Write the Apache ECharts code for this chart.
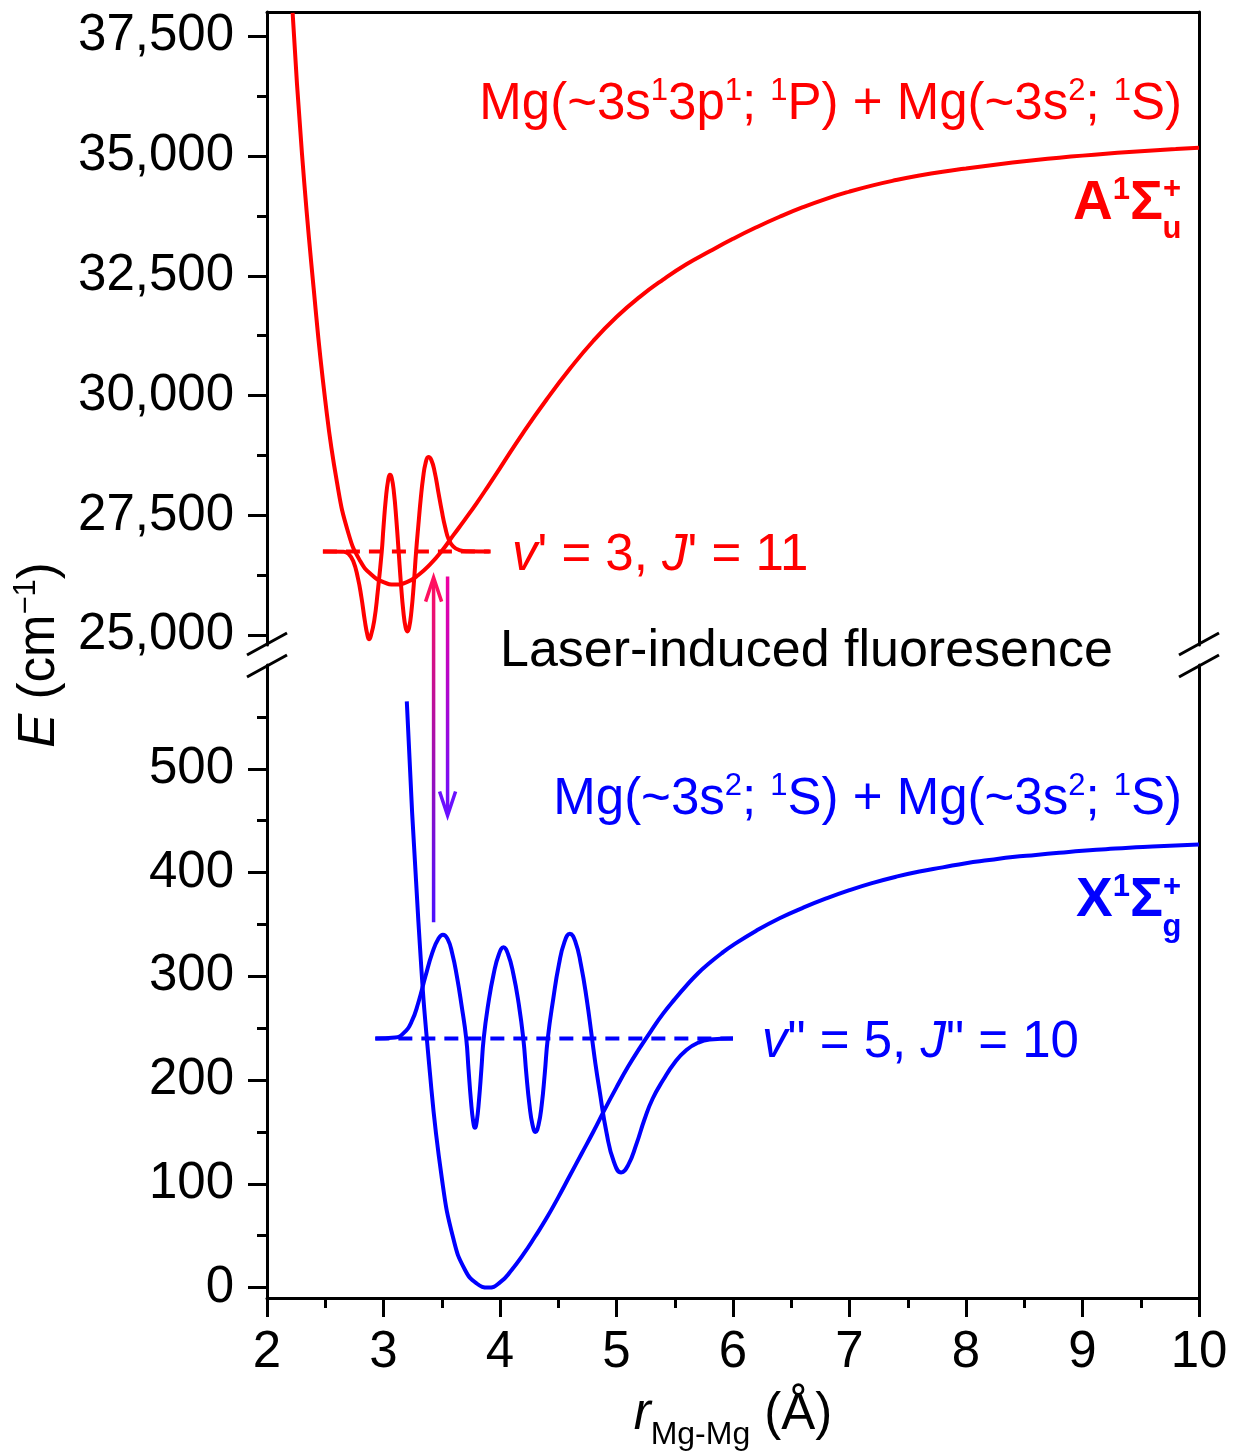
<!DOCTYPE html>
<html><head><meta charset="utf-8">
<script src="https://cdn.jsdelivr.net/npm/echarts@6/dist/echarts.min.js"></script>
<style>html,body{margin:0;padding:0;background:#fff}#c{width:1237px;height:1452px}</style>
</head><body><div id="c"></div>
<script>
// ---------- data ----------
const xTicks = [2, 3, 4, 5, 6, 7, 8, 9, 10];
const topYTicks = [25000, 27500, 30000, 32500, 35000, 37500];
const topYMinor = [26250, 28750, 31250, 33750, 36250];
const botYTicks = [0, 100, 200, 300, 400, 500];
const botYMinor = [50, 150, 250, 350, 450, 550];

// A 1Σu+ potential (cm-1)
const aStateR = [2.22, 2.30, 2.40, 2.50, 2.60, 2.70, 2.80, 2.90, 3.00, 3.10, 3.20, 3.30, 3.40, 3.50, 3.60, 3.70, 3.80, 3.90, 4.00, 4.20, 4.40, 4.60, 4.80, 5.00, 5.20, 5.40, 5.60, 5.80, 6.00, 6.20, 6.40, 6.60, 6.80, 7.00, 7.20, 7.40, 7.60, 7.80, 8.00, 8.20, 8.40, 8.60, 8.80, 9.00, 9.20, 9.40, 9.60, 9.80, 10.0];
const aStateE = [37980, 35050, 32250, 29900, 28200, 27120, 26550, 26260, 26110, 26060, 26110, 26260, 26480, 26760, 27090, 27420, 27760, 28120, 28490, 29230, 29920, 30560, 31140, 31640, 32060, 32420, 32740, 33010, 33270, 33510, 33730, 33930, 34105, 34255, 34385, 34495, 34590, 34670, 34735, 34800, 34860, 34914, 34962, 35005, 35044, 35080, 35112, 35142, 35170];
// v'=3, J'=11 wavefunction (drawn offset on its level)
const aWaveR = [2.48, 2.66, 2.70, 2.74, 2.78, 2.81, 2.84, 2.86, 2.875, 2.89, 2.92, 2.95, 2.985, 3.00, 3.02, 3.04, 3.055, 3.07, 3.09, 3.11, 3.13, 3.15, 3.17, 3.19, 3.205, 3.22, 3.24, 3.26, 3.28, 3.30, 3.32, 3.34, 3.36, 3.385, 3.41, 3.44, 3.47, 3.50, 3.53, 3.56, 3.60, 3.65, 3.72, 3.91];
const aWaveE = [26750, 26745, 26700, 26550, 26200, 25800, 25300, 25030, 24920, 24980, 25300, 25900, 26750, 27260, 27850, 28240, 28350, 28290, 27970, 27420, 26750, 26070, 25510, 25160, 25080, 25160, 25510, 26070, 26750, 27320, 27860, 28290, 28580, 28720, 28660, 28400, 28000, 27600, 27250, 27000, 26850, 26780, 26755, 26750];
const aLevelE = 26750;
const aLevelR = [2.48, 3.92];

// X 1Σg+ potential (cm-1)
const xStateR = [3.20, 3.30, 3.40, 3.50, 3.60, 3.70, 3.80, 3.90, 4.00, 4.10, 4.20, 4.30, 4.40, 4.50, 4.60, 4.70, 4.80, 4.90, 5.00, 5.10, 5.20, 5.30, 5.40, 5.50, 5.60, 5.70, 5.80, 5.90, 6.00, 6.20, 6.40, 6.60, 6.80, 7.00, 7.20, 7.40, 7.60, 7.80, 8.00, 8.20, 8.40, 8.60, 8.80, 9.00, 9.20, 9.40, 9.60, 9.80, 10.0];
const xStateE = [565, 352, 205, 106, 47, 17, 4, 0, 5, 17, 32, 49, 67, 87, 108, 129, 150, 172, 193, 213, 231, 248, 264, 278, 291, 303, 313, 322, 330, 344, 356, 366, 375, 383, 390, 396, 401, 405, 409, 412, 415, 417, 419, 421, 422.5, 424, 425, 426, 427];
// v''=5, J''=10 wavefunction
const xWaveR = [2.93, 3.10, 3.17, 3.24, 3.30, 3.36, 3.42, 3.47, 3.51, 3.55, 3.59, 3.63, 3.67, 3.71, 3.73, 3.75, 3.77, 3.785, 3.80, 3.82, 3.84, 3.86, 3.90, 3.945, 3.99, 4.03, 4.07, 4.115, 4.16, 4.20, 4.226, 4.253, 4.279, 4.305, 4.331, 4.358, 4.384, 4.41, 4.458, 4.505, 4.553, 4.60, 4.648, 4.695, 4.743, 4.79, 4.82, 4.853, 4.915, 4.978, 5.04, 5.10, 5.17, 5.24, 5.31, 5.40, 5.50, 5.60, 5.70, 5.80, 6.00];
const xWaveE = [240, 241, 245, 256, 275, 300, 323, 336, 340, 336, 322, 300, 272, 240, 210, 181, 160, 154, 160, 181, 210, 240, 274, 302, 321, 328, 321, 302, 274, 240, 206, 176, 157, 150, 157, 176, 206, 240, 279, 311, 333, 341, 333, 311, 279, 240, 215, 191, 149, 121, 111, 118, 138, 162, 182, 200, 217, 229, 236, 239, 240];
const xLevelE = 240;
const xLevelR = [2.93, 6.00];

// LIF arrows: excitation (up) and fluorescence (down)
const lifUpR = 3.43, lifUpFromE = 352, lifUpToE = 26206;
const lifDownR = 3.55, lifDownFromE = 26230, lifDownToE = 455;

// ---------- chart ----------
const FONT = 'Liberation Sans, Arial, Helvetica, sans-serif';
const FS = 51;
const RED = '#ff0000', BLUE = '#0000ff';
const zip = (a, b) => a.map((v, i) => [v, b[i]]);
const fmt = v => Number(v).toLocaleString('en-US');
const lineAx = { onZero: false, lineStyle: { color: '#000', width: 3 } };
const tickStyle = { color: '#000', width: 3 };
const SM = 0.5;

const chart = echarts.init(document.getElementById('c'));
const option = {
  animation: false,
  backgroundColor: '#fff',
  grid: [
    { left: 267, right: 38, top: 12, height: 633 },
    { left: 267, right: 38, top: 665, bottom: 154 }
  ],
  xAxis: [
    { gridIndex: 0, type: 'value', min: 2, max: 10, position: 'top', axisLine: lineAx,
      axisTick: { show: false }, axisLabel: { show: false }, splitLine: { show: false } },
    { gridIndex: 1, type: 'value', min: 2, max: 10, interval: 1, position: 'bottom', axisLine: lineAx,
      axisTick: { show: true, length: 19, lineStyle: tickStyle },
      minorTick: { show: true, splitNumber: 2, length: 10, lineStyle: tickStyle },
      axisLabel: { customValues: xTicks, fontSize: FS, fontFamily: FONT, color: '#000', margin: 29 },
      splitLine: { show: false }, minorSplitLine: { show: false },
      name: '{i|r}{sub|Mg-Mg} (Å)', nameLocation: 'middle', nameGap: 80,
      nameTextStyle: { fontSize: FS, fontFamily: FONT, color: '#000', lineHeight: 72,
        rich: { i: { fontSize: FS, fontFamily: FONT, fontStyle: 'italic', color: '#000', lineHeight: 72 },
                sub: { fontSize: 32, fontFamily: FONT, color: '#000', verticalAlign: 'bottom', lineHeight: 34 } } } }
  ],
  yAxis: [
    { gridIndex: 0, type: 'value', min: 24800, max: 38000, position: 'left', axisLine: lineAx,
      axisTick: { show: true, length: 19, lineStyle: tickStyle, customValues: topYTicks },
      axisLabel: { customValues: topYTicks, formatter: fmt, fontSize: FS, fontFamily: FONT, color: '#000', margin: 33 },
      splitLine: { show: false } },
    { gridIndex: 0, type: 'value', min: 24800, max: 38000, position: 'left', axisLine: { show: false },
      axisTick: { show: true, length: 10, lineStyle: tickStyle, customValues: topYMinor },
      axisLabel: { show: false }, splitLine: { show: false } },
    { gridIndex: 0, type: 'value', min: 24800, max: 38000, position: 'right', axisLine: lineAx,
      axisTick: { show: false }, axisLabel: { show: false }, splitLine: { show: false } },
    { gridIndex: 1, type: 'value', min: -10, max: 600, position: 'left', axisLine: lineAx,
      axisTick: { show: true, length: 19, lineStyle: tickStyle, customValues: botYTicks },
      axisLabel: { customValues: botYTicks, fontSize: FS, fontFamily: FONT, color: '#000', margin: 33 },
      splitLine: { show: false } },
    { gridIndex: 1, type: 'value', min: -10, max: 600, position: 'left', axisLine: { show: false },
      axisTick: { show: true, length: 10, lineStyle: tickStyle, customValues: botYMinor },
      axisLabel: { show: false }, splitLine: { show: false } },
    { gridIndex: 1, type: 'value', min: -10, max: 600, position: 'right', axisLine: lineAx,
      axisTick: { show: false }, axisLabel: { show: false }, splitLine: { show: false } }
  ],
  series: [
    { type: 'line', xAxisIndex: 0, yAxisIndex: 0, data: zip(aLevelR, [aLevelE, aLevelE]), symbol: 'none',
      lineStyle: { color: RED, width: 4, type: [14, 9] } },
    { type: 'line', xAxisIndex: 0, yAxisIndex: 0, data: zip(aStateR, aStateE), symbol: 'none', smooth: SM,
      lineStyle: { color: RED, width: 4 } },
    { type: 'line', xAxisIndex: 0, yAxisIndex: 0, data: zip(aWaveR, aWaveE), symbol: 'none', smooth: SM,
      lineStyle: { color: RED, width: 4 } },
    { type: 'line', xAxisIndex: 1, yAxisIndex: 3, data: zip(xLevelR, [xLevelE, xLevelE]), symbol: 'none',
      lineStyle: { color: BLUE, width: 4, type: [14, 9] } },
    { type: 'line', xAxisIndex: 1, yAxisIndex: 3, data: zip(xStateR, xStateE), symbol: 'none', smooth: SM,
      lineStyle: { color: BLUE, width: 4 } },
    { type: 'line', xAxisIndex: 1, yAxisIndex: 3, data: zip(xWaveR, xWaveE), symbol: 'none', smooth: SM,
      lineStyle: { color: BLUE, width: 4 } }
  ]
};
chart.setOption(option);

// ---------- annotations ----------
const topF = { xAxisIndex: 0, yAxisIndex: 0 };
const botF = { xAxisIndex: 1, yAxisIndex: 3 };
const upB = chart.convertToPixel(botF, [lifUpR, lifUpFromE]);
const upT = chart.convertToPixel(topF, [lifUpR, lifUpToE]);
const dnT = chart.convertToPixel(topF, [lifDownR, lifDownFromE]);
const dnB = chart.convertToPixel(botF, [lifDownR, lifDownToE]);
const gTopL = chart.convertToPixel(topF, [2, 24800]);
const gBotL = chart.convertToPixel(botF, [2, 600]);
const gTopR = chart.convertToPixel(topF, [10, 24800]);

function grad(x, y0, y1, c0, c1) {
  return new echarts.graphic.LinearGradient(x, y0, x, y1, [{ offset: 0, color: c0 }, { offset: 1, color: c1 }], true);
}
const AH = 24, AW = 8;
const supS = { fontSize: 31, fontFamily: FONT, lineHeight: 16, verticalAlign: 'top' };
const subS = { fontSize: 31, fontFamily: FONT, lineHeight: 22, verticalAlign: 'bottom' };
const itS = { fontSize: FS, fontFamily: FONT, fontStyle: 'italic' };

function txt(x, y, text, fill, align, extra, fs) {
  return Object.assign({ type: 'text', x: x, y: y, z: 50,
    style: { text: text, fill: fill, fontSize: fs || FS, fontFamily: FONT, lineHeight: 58,
      align: align, verticalAlign: 'middle', rich: { sup: supS, sub: subS, i: itS } } }, extra || {});
}

const midY = (gTopL[1] + gBotL[1]) / 2;
const slash = (cx, cy) => ({ type: 'line', z: 60, shape: { x1: cx - 20, y1: cy + 11, x2: cx + 20, y2: cy - 11 },
  style: { stroke: '#000', lineWidth: 3 } });
const termRich = {
  b: { fontSize: 55, fontWeight: 'bold', fontFamily: FONT },
  bs: { fontSize: 31, fontWeight: 'bold', fontFamily: FONT, lineHeight: 18, verticalAlign: 'top' }
};
const small = (x, y, t, c) => ({ type: 'text', x: x, y: y, z: 50,
  style: { text: t, fill: c, fontSize: 31, fontWeight: 'bold', fontFamily: FONT, align: 'center', verticalAlign: 'middle' } });

const graphics = [
  // break marks
  slash(gTopL[0], gTopL[1] - 1), slash(gTopL[0], gBotL[1] + 1),
  slash(gTopR[0], gTopL[1] - 1), slash(gTopR[0], gBotL[1] + 1),
  // up arrow (excitation)
  { type: 'line', z: 40, shape: { x1: upB[0], y1: upB[1], x2: upT[0], y2: upT[1] + 2 },
    style: { stroke: grad(upB[0], upT[1], upB[1], '#ff1060', '#4a10ff'), lineWidth: 3.5 } },
  { type: 'polyline', z: 40, shape: { points: [[upT[0] - AW, upT[1] + AH], [upT[0], upT[1]], [upT[0] + AW, upT[1] + AH]] },
    style: { stroke: '#ff1060', lineWidth: 3.5, fill: null } },
  // down arrow (fluorescence)
  { type: 'line', z: 40, shape: { x1: dnT[0], y1: dnT[1], x2: dnB[0], y2: dnB[1] - 2 },
    style: { stroke: grad(dnT[0], dnT[1], dnB[1], '#f000a0', '#6a10ff'), lineWidth: 3.5 } },
  { type: 'polyline', z: 40, shape: { points: [[dnB[0] - AW, dnB[1] - AH], [dnB[0], dnB[1]], [dnB[0] + AW, dnB[1] - AH]] },
    style: { stroke: '#6a10ff', lineWidth: 3.5, fill: null } },
  // texts
  txt(1182, 105, 'Mg(~3s{sup|1}3p{sup|1}; {sup|1}P) + Mg(~3s{sup|2}; {sup|1}S)', RED, 'right'),
  txt(1182, 800, 'Mg(~3s{sup|2}; {sup|1}S) + Mg(~3s{sup|2}; {sup|1}S)', BLUE, 'right'),
  txt(512, 556, '{i|v}\' = 3, {i|J}\' = 11', RED, 'left'),
  txt(762, 1043, '{i|v}" = 5, {i|J}" = 10', BLUE, 'left'),
  txt(500, midY - 3, 'Laser-induced fluoresence', '#000', 'left', null, 52),
  txt(40, midY, '{i|E} (cm{sup|−1})', '#000', 'center', { rotation: Math.PI / 2 }),
  // term symbols
  { type: 'text', x: 1163, y: 204, z: 50, style: { text: '{b|A}{bs|1}{b|Σ}', fill: RED, align: 'right', verticalAlign: 'middle', lineHeight: 58, rich: termRich } },
  small(1172, 189, '+', RED), small(1172, 229, 'u', RED),
  { type: 'text', x: 1163, y: 901, z: 50, style: { text: '{b|X}{bs|1}{b|Σ}', fill: BLUE, align: 'right', verticalAlign: 'middle', lineHeight: 58, rich: termRich } },
  small(1172, 887, '+', BLUE), small(1172, 927, 'g', BLUE)
];
chart.setOption({ graphic: graphics });
</script>
</body></html>
